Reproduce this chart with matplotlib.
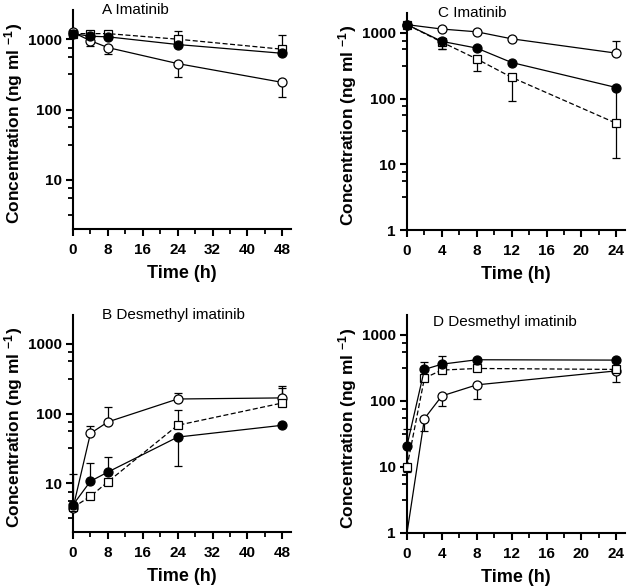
import numpy as np
import matplotlib
matplotlib.use('Agg')
import matplotlib.pyplot as plt
from matplotlib.ticker import FixedLocator, NullFormatter

plt.rcParams['font.family'] = ['Liberation Sans', 'DejaVu Sans']
plt.rcParams['mathtext.fontset'] = 'custom'
plt.rcParams['mathtext.rm'] = 'Liberation Sans:bold'
plt.rcParams['mathtext.default'] = 'rm'

nan = np.nan

# ---- Panel A: Imatinib, 0-48 h ----
a_time = [0, 4, 8, 24, 48]
a_open = [1250, 950, 760, 450, 243]
a_open_lo = [nan, 790, 610, 290, 152]
a_filled = [1200, 1100, 1080, 840, 630]
a_square = [1200, 1200, 1200, 1000, 720]
a_square_hi = [nan, 1300, 1300, 1320, 1130]

# ---- Panel B: Desmethyl imatinib, 0-48 h ----
b_time = [0, 4, 8, 24, 48]
b_open = [4.4, 52, 76, 162, 168]
b_open_hi = [13.5, 66, 125, 200, 245]
b_filled = [4.9, 10.7, 14.5, 46, 68]
b_filled_hi = [nan, 19.5, 24, nan, nan]
b_filled_lo = [nan, nan, nan, 17.5, nan]
b_square = [4.5, 6.5, 10.5, 68, 142]
b_square_hi = [nan, nan, nan, 112, 230]

# ---- Panel C: Imatinib, 0-24 h ----
c_time = [0, 4, 8, 12, 24]
c_open = [1330, 1140, 1035, 810, 490]
c_open_hi = [nan, nan, nan, nan, 740]
c_filled = [1330, 740, 585, 353, 147]
c_filled_lo = [nan, 560, nan, nan, 40]
c_square = [1330, 720, 400, 210, 42]
c_square_lo = [nan, 560, 258, 92, 12.6]

# ---- Panel D: Desmethyl imatinib, 0-24 h ----
d_time = [0, 2, 4, 8, 24]
d_open = [1, 54, 119, 175, 285]
d_open_lo = [nan, 35, 84, 108, 195]
d_filled = [21, 300, 360, 420, 415]
d_filled_hi = [nan, 385, 485, nan, nan]
d_square = [10, 222, 293, 310, 300]
d_square_hi = [37, nan, nan, nan, nan]
d_square_lo = [8.3, nan, nan, nan, nan]

W, H = 635, 586
fig = plt.figure(figsize=(W / 100, H / 100), dpi=100)


def make_axes(left, right, top, bottom):
    return fig.add_axes([left / W, 1 - bottom / H, (right - left) / W, (bottom - top) / H])


def series(ax, t, y, lo, hi, style, ylow):
    t = np.array(t, float)
    y = np.array(y, float)
    lo = np.array(lo if lo is not None else [nan] * len(t), float)
    hi = np.array(hi if hi is not None else [nan] * len(t), float)
    if style == 'open':
        kw = dict(marker='o', mfc='white', mec='black', ls='-', ms=6.5)
    elif style == 'filled':
        kw = dict(marker='o', mfc='black', mec='black', ls='-', ms=6.5)
    else:
        kw = dict(marker='s', mfc='white', mec='black', ls=(0, (4, 2)), ms=6)
    # error bars (one-sided, drawn to the given end value)
    for ti, yi, l, h in zip(t, y, lo, hi):
        for end in (l, h):
            if not np.isnan(end):
                ax.errorbar([ti], [yi], yerr=[[max(yi - end, 0)], [max(end - yi, 0)]],
                            fmt='none', ecolor='black', elinewidth=0.9,
                            capsize=3, capthick=0.9, zorder=2.8, clip_on=False)
    show = [i for i, v in enumerate(y) if v > ylow]
    ax.plot(t, y, color='black', lw=0.9, mew=0.9, markevery=show, zorder=3,
            clip_on=False, **kw)


def style_axes(ax, xmax, xmajor, xminor, ylim, title, tx, ty, ymajor):
    ax.set_yscale('log')
    ax.set_xlim(0, xmax)
    ax.set_ylim(*ylim)
    for s in ('top', 'right'):
        ax.spines[s].set_visible(False)
    for s in ('left', 'bottom'):
        ax.spines[s].set_linewidth(1.5)
    ax.set_xticks(xmajor)
    ax.xaxis.set_minor_locator(FixedLocator(xminor))
    ax.set_yticks(ymajor)
    ax.set_yticklabels([str(v) for v in ymajor])
    dec = np.arange(-1, 4)
    minors = [10.0 ** d * m for d in dec for m in (3.16, 5.6, 7.6)]
    minors = [m for m in minors if ylim[0] < m < ylim[1]]
    ax.yaxis.set_minor_locator(FixedLocator(minors))
    ax.yaxis.set_minor_formatter(NullFormatter())
    ax.tick_params(which='major', length=5, width=1.5, labelsize=11, pad=3)
    ax.tick_params(axis='x', which='major', pad=5)
    ax.tick_params(which='minor', length=3.5, width=1.3)
    for lab in ax.get_xticklabels() + ax.get_yticklabels():
        lab.set_fontweight('bold')
    ax.set_xlabel('Time (h)', fontsize=13, fontweight='bold', labelpad=6)
    ax.set_ylabel(r'Concentration (ng ml $^{-1}$)', fontsize=12.5, fontweight='bold')
    ax.yaxis.set_label_coords(-0.22, 0.48)
    ax.text(tx, ty, title, transform=ax.transAxes, fontsize=11, ha='left', va='center')


axA = make_axes(73, 291, 10, 229)
axB = make_axes(73, 291, 315, 532)
axC = make_axes(407, 625, 13, 230)
axD = make_axes(407, 625, 315, 533)

ylA = (2, 2600)
series(axA, a_time, a_open, a_open_lo, None, 'open', ylA[0])
series(axA, a_time, a_square, None, a_square_hi, 'square', ylA[0])
series(axA, a_time, a_filled, None, None, 'filled', ylA[0])
style_axes(axA, 50, [0, 8, 16, 24, 32, 40, 48], range(0, 50, 4), ylA,
           'A Imatinib', 0.135, 1.0, [10, 100, 1000])

ylB = (2, 2600)
series(axB, b_time, b_open, None, b_open_hi, 'open', ylB[0])
series(axB, b_time, b_square, None, b_square_hi, 'square', ylB[0])
series(axB, b_time, b_filled, b_filled_lo, b_filled_hi, 'filled', ylB[0])
style_axes(axB, 50, [0, 8, 16, 24, 32, 40, 48], range(0, 50, 4), ylB,
           'B Desmethyl imatinib', 0.135, 1.0, [10, 100, 1000])

ylC = (1, 2000)
series(axC, c_time, c_open, None, c_open_hi, 'open', ylC[0])
series(axC, c_time, c_square, c_square_lo, None, 'square', ylC[0])
series(axC, c_time, c_filled, c_filled_lo, None, 'filled', ylC[0])
style_axes(axC, 25, [0, 4, 8, 12, 16, 20, 24], range(0, 25, 2), ylC,
           'C Imatinib', 0.14, 1.0, [1, 10, 100, 1000])

ylD = (1, 2000)
series(axD, d_time, d_open, d_open_lo, None, 'open', ylD[0])
series(axD, d_time, d_square, d_square_lo, d_square_hi, 'square', ylD[0])
series(axD, d_time, d_filled, None, d_filled_hi, 'filled', ylD[0])
style_axes(axD, 25, [0, 4, 8, 12, 16, 20, 24], range(0, 25, 2), ylD,
           'D Desmethyl imatinib', 0.12, 0.97, [1, 10, 100, 1000])

fig.savefig('out.png', dpi=100)
